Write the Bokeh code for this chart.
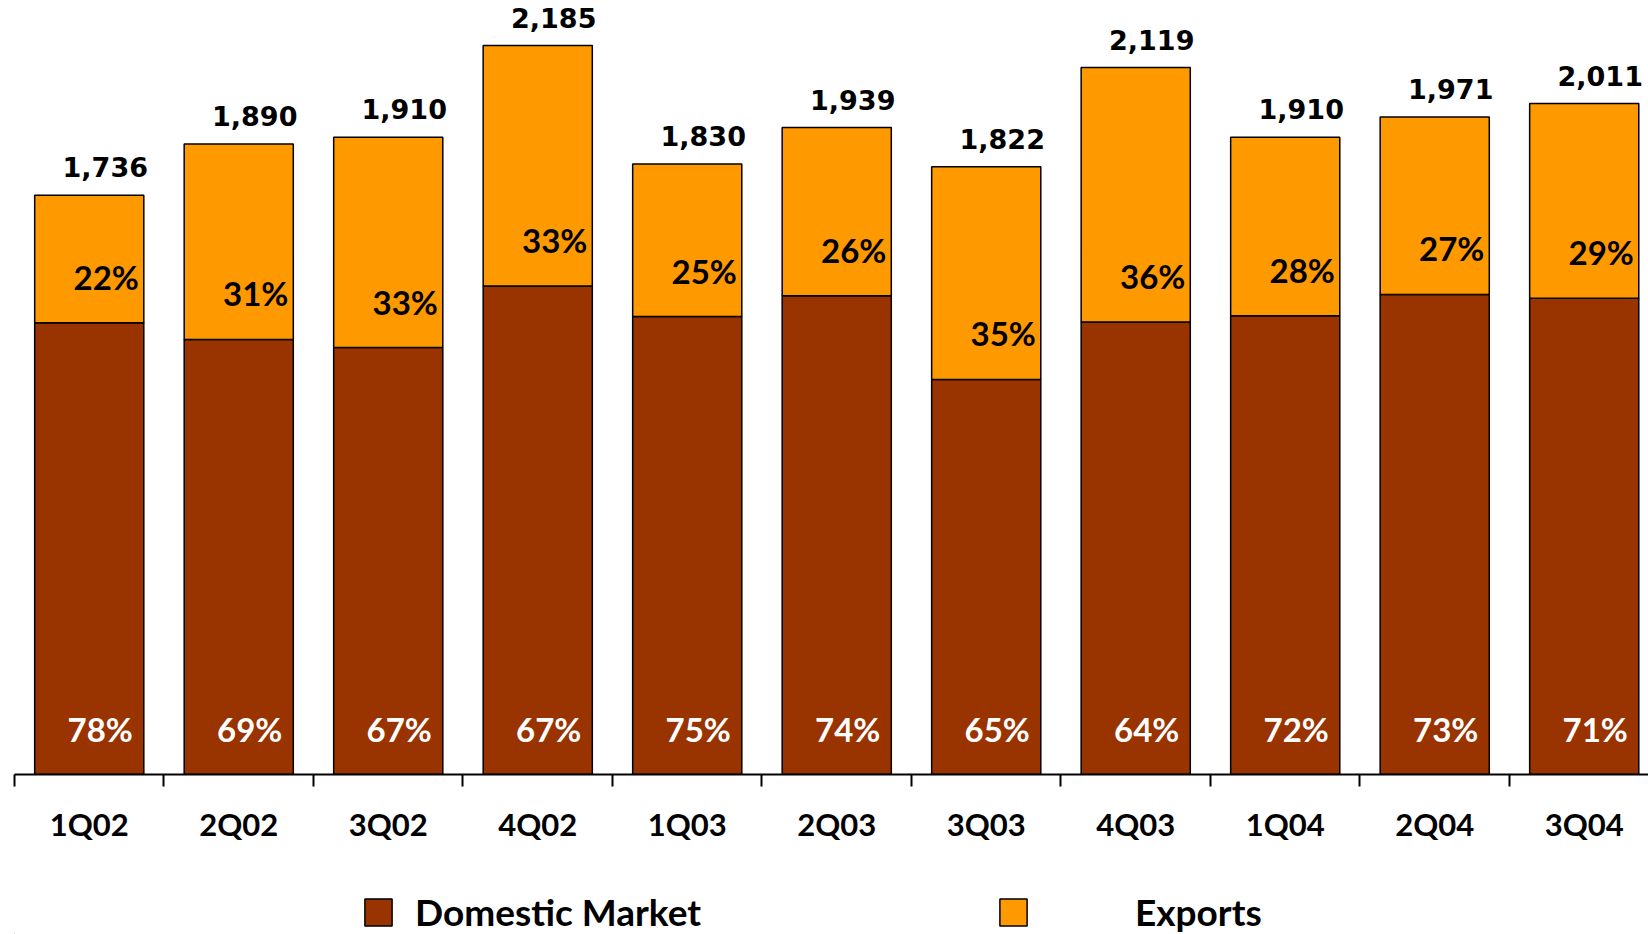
from bokeh.plotting import figure
from bokeh.models import (ColumnDataSource, Range1d, FixedTicker, Legend, LegendItem)
from bokeh.layouts import column
from bokeh.core.properties import value
from bokeh.embed import file_html
from bokeh.resources import INLINE

# ---- data ----
categories = ["1Q02", "2Q02", "3Q02", "4Q02", "1Q03", "2Q03", "3Q03", "4Q03", "1Q04", "2Q04", "3Q04"]
totals = [1736, 1890, 1910, 2185, 1830, 1939, 1822, 2119, 1910, 1971, 2011]
domestic_pct = [78, 69, 67, 67, 75, 74, 65, 64, 72, 73, 71]
export_pct = [22, 31, 33, 33, 25, 26, 35, 36, 28, 27, 29]
series_names = ["Domestic Market", "Exports"]

DOM_COLOR = "#993300"
EXP_COLOR = "#FF9900"

n = len(categories)
xs = list(range(n))
domestic = [t * d / 100.0 for t, d in zip(totals, domestic_pct)]

src = ColumnDataSource(dict(
    x=xs,
    zero=[0] * n,
    dom=domestic,
    total=totals,
    total_lbl=[f"{t:,}" for t in totals],
    dom_lbl=[f"{d}%" for d in domestic_pct],
    exp_lbl=[f"{e}%" for e in export_pct],
))

p = figure(width=1648, height=870,
           x_range=Range1d(-0.5, 10.43), y_range=Range1d(0, 2320),
           output_backend="svg", toolbar_location=None,
           y_axis_location=None,
           min_border_left=14, min_border_right=0, min_border_top=0, min_border_bottom=96)
p.outline_line_color = None
p.grid.visible = False

p.vbar(x="x", bottom="zero", top="dom", width=0.73, source=src,
       fill_color=DOM_COLOR, line_color="black", line_width=1.5)
p.vbar(x="x", bottom="dom", top="total", width=0.73, source=src,
       fill_color=EXP_COLOR, line_color="black", line_width=1.5)

# totals above bars
p.text(x="x", y="total", text="total_lbl", source=src,
       x_offset=16, y_offset=-28, text_align="center", text_baseline="middle",
       text_font=value("DejaVu Sans"), text_font_style="bold", text_font_size="27px",
       text_color="black")
# export share
p.text(x="x", y="dom", text="exp_lbl", source=src,
       x_offset=17, y_offset=-46, text_align="center", text_baseline="middle",
       text_font=value("Lato"), text_font_style="bold", text_font_size="33px",
       text_color="black")
# domestic share
p.text(x="x", y="zero", text="dom_lbl", source=src,
       x_offset=11, y_offset=-46, text_align="center", text_baseline="middle",
       text_font=value("Lato"), text_font_style="bold", text_font_size="33px",
       text_color="white")

ax = p.xaxis[0]
ax.ticker = FixedTicker(ticks=xs, minor_ticks=[i - 0.5 for i in range(n + 1)])
ax.major_label_overrides = {i: c for i, c in zip(xs, categories)}
ax.axis_line_color = "black"
ax.axis_line_width = 2
ax.major_tick_line_color = None
ax.major_tick_out = 0
ax.major_tick_in = 0
ax.minor_tick_line_color = "black"
ax.minor_tick_line_width = 2
ax.minor_tick_out = 12
ax.minor_tick_in = 0
ax.major_label_standoff = 18
ax.major_label_text_font = "Lato"
ax.major_label_text_font_style = "bold"
ax.major_label_text_font_size = "31px"
ax.major_label_text_color = "black"

# ---- legend strip ----
lg = figure(width=1648, height=64, x_range=Range1d(0, 1), y_range=Range1d(0, 1),
            output_backend="svg", toolbar_location=None,
            x_axis_location=None, y_axis_location=None,
            min_border_left=0, min_border_right=0, min_border_top=0, min_border_bottom=0)
lg.outline_line_color = None
lg.grid.visible = False
# swatch renderers (kept outside the visible range; only their legend glyphs show)
r_dom = lg.vbar(x=[-10], top=[-10], width=0.1, fill_color=DOM_COLOR, line_color="black", line_width=1.5)
r_exp = lg.vbar(x=[-10], top=[-10], width=0.1, fill_color=EXP_COLOR, line_color="black", line_width=1.5)

def make_legend(label, renderer, loc, standoff):
    return Legend(items=[LegendItem(label=label, renderers=[renderer])],
                  location=loc, orientation="horizontal",
                  glyph_width=34, glyph_height=34, label_standoff=standoff,
                  padding=0, margin=0, border_line_color=None, background_fill_alpha=0,
                  label_text_font="Lato", label_text_font_style="bold",
                  label_text_font_size="37px", label_text_color="black")

lg.add_layout(make_legend(series_names[0], r_dom, (347, 0), 20))
lg.add_layout(make_legend(series_names[1], r_exp, (982, 0), 105))

layout = column(p, lg, spacing=0)
open("out.html", "w").write(file_html(layout, INLINE))
